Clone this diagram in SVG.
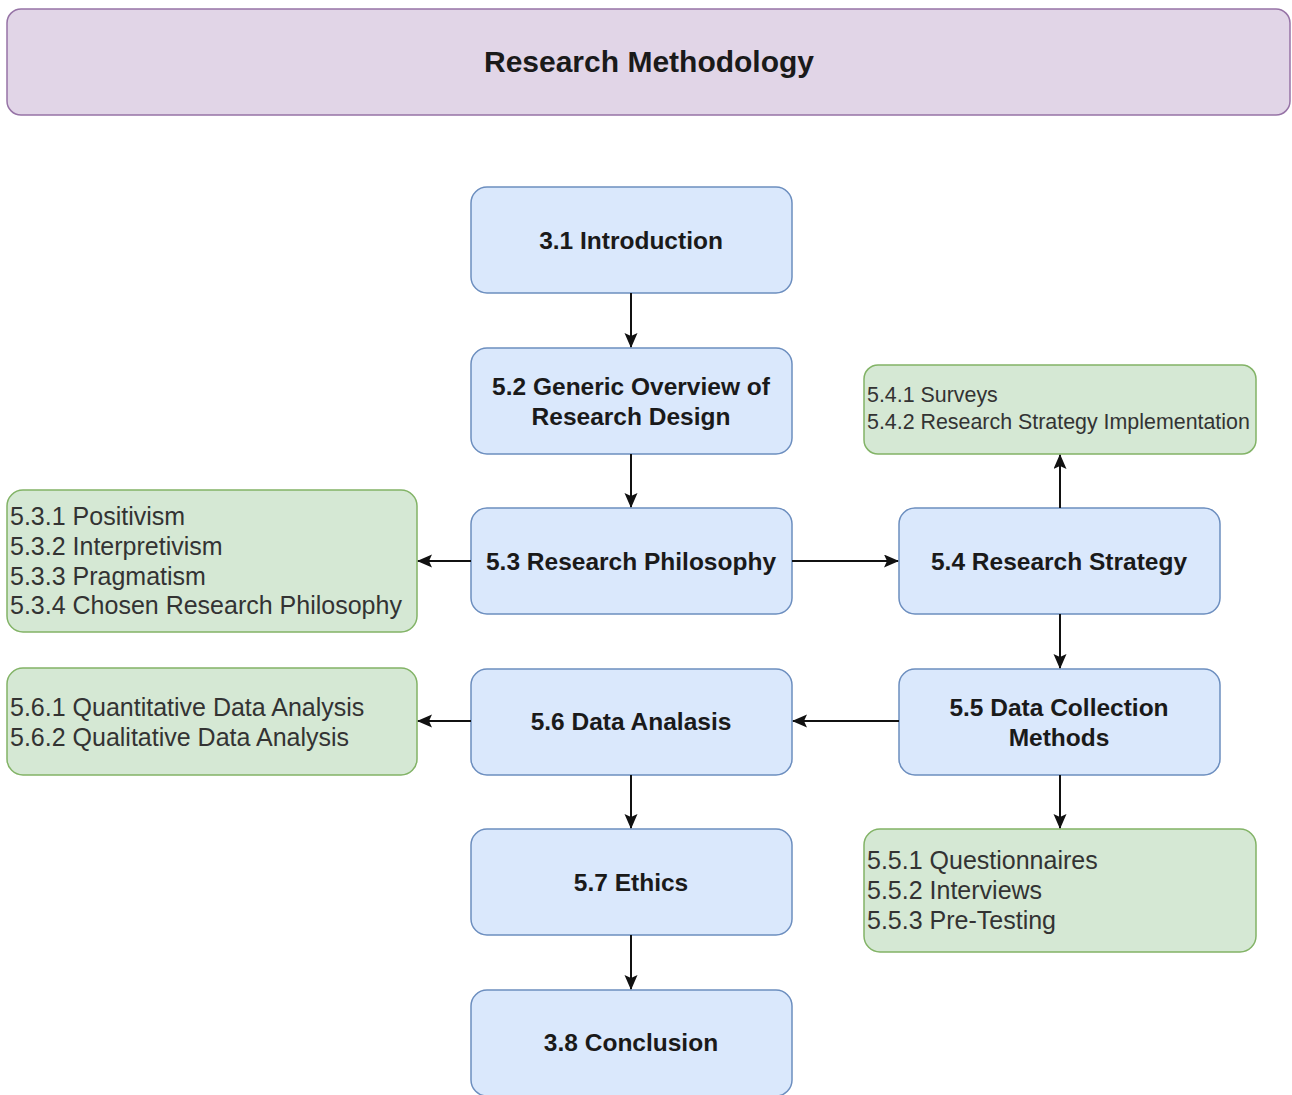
<svg xmlns="http://www.w3.org/2000/svg" width="1292" height="1095" viewBox="0 0 1292 1095">
  <style>
    .title { fill: #e1d5e7; stroke: #9673a6; stroke-width: 1.5; }
    .main { fill: #dae8fc; stroke: #6c8ebf; stroke-width: 1.5; }
    .sub { fill: #d5e8d4; stroke: #82b366; stroke-width: 1.5; }
    .bold { font-family: "Liberation Sans", Arial, sans-serif; font-weight: bold; fill: #1a1a1a; text-anchor: middle; dominant-baseline: central; }
    .list { font-family: "Liberation Sans", Arial, sans-serif; fill: #333333; dominant-baseline: central; }
    .edge { fill: none; stroke: #111111; stroke-width: 2; }
  </style>
  <defs>
    <marker id="arrow" markerUnits="userSpaceOnUse" markerWidth="16" markerHeight="14" refX="14" refY="6.5" orient="auto">
      <path d="M0,0 L15,6.5 L0,13 L3,6.5 Z" fill="#111111"/>
    </marker>
  </defs>
  <rect width="1292" height="1095" fill="#ffffff"/>

  <!-- header -->
  <g id="header">
    <rect class="title" x="7" y="9" width="1283" height="106" rx="14"/>
    <text class="bold" x="649" y="61" font-size="30">Research Methodology</text>
  </g>

  <!-- main chapter sections -->
  <g id="intro">
    <rect class="main" x="471" y="187" width="321" height="106" rx="16"/>
    <text class="bold" x="631" y="240" font-size="24.5">3.1 Introduction</text>
  </g>
  <g id="design">
    <rect class="main" x="471" y="348" width="321" height="106" rx="16"/>
    <text class="bold" x="631" y="386" font-size="24.5">5.2 Generic Overview of</text>
    <text class="bold" x="631" y="416" font-size="24.5">Research Design</text>
  </g>
  <g id="philosophy">
    <rect class="main" x="471" y="508" width="321" height="106" rx="16"/>
    <text class="bold" x="631" y="561" font-size="24.5">5.3 Research Philosophy</text>
  </g>
  <g id="strategy">
    <rect class="main" x="899" y="508" width="321" height="106" rx="16"/>
    <text class="bold" x="1059" y="561" font-size="24.5">5.4 Research Strategy</text>
  </g>
  <g id="collection">
    <rect class="main" x="899" y="669" width="321" height="106" rx="16"/>
    <text class="bold" x="1059" y="707" font-size="24.5">5.5 Data Collection</text>
    <text class="bold" x="1059" y="737" font-size="24.5">Methods</text>
  </g>
  <g id="analysis">
    <rect class="main" x="471" y="669" width="321" height="106" rx="16"/>
    <text class="bold" x="631" y="721" font-size="24.5">5.6 Data Analasis</text>
  </g>
  <g id="ethics">
    <rect class="main" x="471" y="829" width="321" height="106" rx="16"/>
    <text class="bold" x="631" y="882" font-size="24.5">5.7 Ethics</text>
  </g>
  <g id="conclusion">
    <rect class="main" x="471" y="990" width="321" height="106" rx="16"/>
    <text class="bold" x="631" y="1042" font-size="24.5">3.8 Conclusion</text>
  </g>

  <!-- subsection lists -->
  <g id="strategy-items">
    <rect class="sub" x="864" y="365" width="392" height="89" rx="14"/>
    <text class="list" x="867" y="395" font-size="21.4">5.4.1 Surveys</text>
    <text class="list" x="867" y="422" font-size="21.4">5.4.2 Research Strategy Implementation</text>
  </g>
  <g id="philosophy-items">
    <rect class="sub" x="7" y="490" width="410" height="142" rx="16"/>
    <text class="list" x="10" y="516" font-size="25">5.3.1 Positivism</text>
    <text class="list" x="10" y="546" font-size="25">5.3.2 Interpretivism</text>
    <text class="list" x="10" y="576" font-size="25">5.3.3 Pragmatism</text>
    <text class="list" x="10" y="605" font-size="25">5.3.4 Chosen Research Philosophy</text>
  </g>
  <g id="analysis-items">
    <rect class="sub" x="7" y="668" width="410" height="107" rx="16"/>
    <text class="list" x="10" y="707" font-size="25">5.6.1 Quantitative Data Analysis</text>
    <text class="list" x="10" y="737" font-size="25">5.6.2 Qualitative Data Analysis</text>
  </g>
  <g id="collection-items">
    <rect class="sub" x="864" y="829" width="392" height="123" rx="16"/>
    <text class="list" x="867" y="860" font-size="25">5.5.1 Questionnaires</text>
    <text class="list" x="867" y="890" font-size="25">5.5.2 Interviews</text>
    <text class="list" x="867" y="920" font-size="25">5.5.3 Pre-Testing</text>
  </g>

  <!-- connectors -->
  <g id="connectors">
    <path class="edge" marker-end="url(#arrow)" d="M631,293 L631,347"/>
    <path class="edge" marker-end="url(#arrow)" d="M631,454 L631,507"/>
    <path class="edge" marker-end="url(#arrow)" d="M471,561 L418,561"/>
    <path class="edge" marker-end="url(#arrow)" d="M792,561 L898,561"/>
    <path class="edge" marker-end="url(#arrow)" d="M1060,508 L1060,455"/>
    <path class="edge" marker-end="url(#arrow)" d="M1060,614 L1060,668"/>
    <path class="edge" marker-end="url(#arrow)" d="M899,721 L793,721"/>
    <path class="edge" marker-end="url(#arrow)" d="M471,721 L418,721"/>
    <path class="edge" marker-end="url(#arrow)" d="M631,775 L631,828"/>
    <path class="edge" marker-end="url(#arrow)" d="M1060,775 L1060,828"/>
    <path class="edge" marker-end="url(#arrow)" d="M631,935 L631,989"/>
  </g>
</svg>
